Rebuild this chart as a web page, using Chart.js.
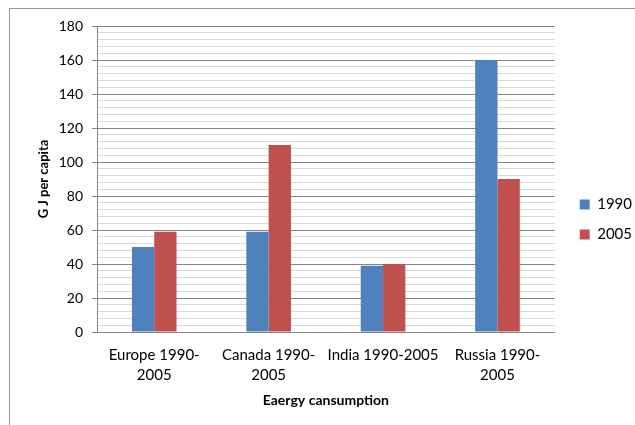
<!DOCTYPE html>
<html>
<head>
<meta charset="utf-8">
<script src="https://cdn.jsdelivr.net/npm/chart.js@4"></script>
<style>
  html, body { margin: 0; padding: 0; background: #fff; }
</style>
</head>
<body>
<canvas id="chart" width="635" height="425"></canvas>
<script>
// Energy consumption per capita, two survey years per region
const categories = [['Europe 1990-', '2005'], ['Canada 1990-', '2005'], 'India 1990-2005', ['Russia 1990-', '2005']];
const seriesNames = ['1990', '2005'];
const values1990 = [50, 59, 39, 160];
const values2005 = [59, 110, 40, 90];

// value axis: labelled every 20, finer rules every 4
const yMin = 0;
const yMax = 180;
const yMajorStep = 20;
const yMinorStep = 4;

const xTitle = 'Eaergy cansumption';
const yTitle = 'G J per capita';

const FONT = 'Lato';
const MAJOR_RULE = '#868686';
const MINOR_RULE = '#d9d9d9';

// white page with the outer chart frame
const framePlugin = {
  id: 'frame',
  beforeDraw(chart) {
    const ctx = chart.ctx;
    ctx.save();
    ctx.fillStyle = '#ffffff';
    ctx.fillRect(0, 0, chart.width, chart.height);
    ctx.strokeStyle = '#9a9a9a';
    ctx.lineWidth = 1;
    ctx.strokeRect(9.5, 8.5, chart.width + 40, chart.height + 40);
    ctx.restore();
  }
};

// keep the legend a little clear of the plot edge
const legendGap = {
  id: 'legendGap',
  afterLayout(chart) {
    const lg = chart.legend;
    const w = lg.width;
    lg.left = chart.chartArea.right + 10;
    lg.right = lg.left + w;
  }
};

const isMajor = (v) => v % yMajorStep === 0;

new Chart(document.getElementById('chart'), {
  type: 'bar',
  data: {
    labels: categories,
    datasets: [
      { label: seriesNames[0], data: values1990, backgroundColor: '#4f81bd', borderWidth: 0 },
      { label: seriesNames[1], data: values2005, backgroundColor: '#c0504d', borderWidth: 0 }
    ]
  },
  options: {
    responsive: false,
    animation: false,
    devicePixelRatio: 1,
    datasets: { bar: { categoryPercentage: 0.39, barPercentage: 1.0 } },
    layout: { padding: { top: 26, bottom: 12, left: 10, right: 3 } },
    plugins: {
      legend: {
        position: 'right',
        align: 'center',
        labels: {
          boxWidth: 10,
          boxHeight: 10,
          padding: 15,
          color: '#000',
          font: { family: FONT, size: 15 }
        }
      },
      tooltip: { enabled: false }
    },
    scales: {
      x: {
        grid: { display: false, drawTicks: false },
        border: { display: true, color: MAJOR_RULE },
        ticks: {
          padding: 13,
          color: '#000',
          maxRotation: 0,
          autoSkip: false,
          font: { family: FONT, size: 15, lineHeight: 1.35 }
        },
        title: {
          display: true,
          text: xTitle,
          color: '#000',
          font: { family: FONT, size: 14, weight: 'bold' },
          padding: { top: 0, bottom: 4 }
        },
        afterFit(scale) { scale.height = 81; }
      },
      y: {
        min: yMin,
        max: yMax,
        ticks: {
          stepSize: yMinorStep,
          autoSkip: false,
          padding: 9,
          color: '#000',
          font: { family: FONT, size: 14 },
          callback: (v) => (isMajor(v) ? v : '')
        },
        grid: {
          color: (c) => (c.tick && isMajor(c.tick.value) ? MAJOR_RULE : MINOR_RULE),
          tickColor: (c) => (c.tick && isMajor(c.tick.value) ? MAJOR_RULE : 'rgba(0,0,0,0)'),
          tickLength: 5,
          lineWidth: 1
        },
        border: { display: true, color: MAJOR_RULE },
        title: {
          display: true,
          text: yTitle,
          color: '#000',
          font: { family: FONT, size: 13, weight: 'bold' },
          padding: { top: 26, bottom: 0 }
        },
        afterFit(scale) { scale.width = 87; }
      }
    }
  },
  plugins: [framePlugin, legendGap]
});
</script>
</body>
</html>
